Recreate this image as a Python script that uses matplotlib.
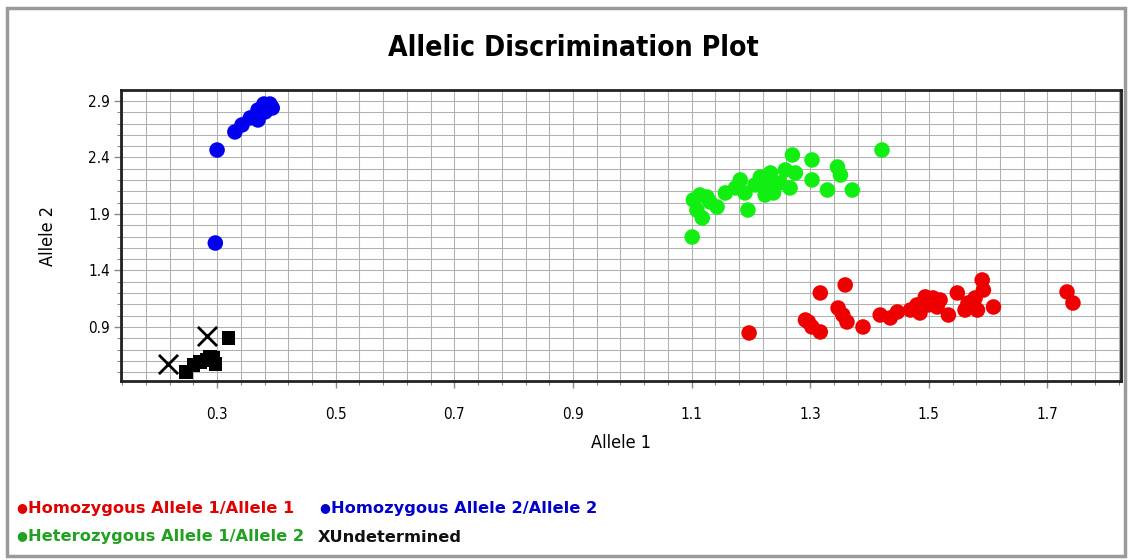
import matplotlib
matplotlib.use("Agg")
import matplotlib.pyplot as plt
from matplotlib.ticker import FixedLocator, MultipleLocator
from matplotlib.patches import Rectangle
from matplotlib import font_manager
import numpy as np

# ---------------- data ----------------
hom1_x = [1.197, 1.292, 1.303, 1.317, 1.317, 1.347, 1.359, 1.362, 1.389, 1.418, 1.435,
          1.447, 1.480, 1.485, 1.494, 1.507, 1.514, 1.533, 1.548, 1.566, 1.582, 1.590,
          1.592, 1.609, 1.733, 1.743, 1.297, 1.355, 1.469, 1.499, 1.519, 1.578, 1.561]
hom1_y = [0.847, 0.962, 0.900, 0.856, 1.201, 1.068, 1.272, 0.944, 0.900, 1.006, 0.980,
          1.033, 1.095, 1.024, 1.166, 1.157, 1.077, 1.006, 1.201, 1.112, 1.050, 1.316,
          1.227, 1.077, 1.210, 1.112, 0.944, 1.006, 1.050, 1.095, 1.139, 1.157, 1.050]

hom2_x = [0.300, 0.297, 0.330, 0.342, 0.356, 0.369, 0.369, 0.379, 0.389, 0.393, 0.381]
hom2_y = [2.466, 1.643, 2.626, 2.688, 2.750, 2.732, 2.820, 2.873, 2.873, 2.838, 2.803]

het_x = [1.101, 1.103, 1.109, 1.118, 1.126, 1.131, 1.143, 1.157, 1.182, 1.190, 1.195,
         1.216, 1.227, 1.233, 1.238, 1.249, 1.266, 1.270, 1.275, 1.303, 1.303, 1.329,
         1.346, 1.351, 1.371, 1.421, 1.207, 1.224, 1.258, 1.114, 1.174]
het_y = [1.696, 2.024, 1.935, 1.865, 2.050, 2.006, 1.962, 2.086, 2.201, 2.086, 1.935,
         2.227, 2.174, 2.263, 2.086, 2.174, 2.130, 2.422, 2.263, 2.378, 2.201, 2.112,
         2.316, 2.245, 2.112, 2.466, 2.157, 2.068, 2.289, 2.068, 2.130]

ntc_x = [0.248, 0.260, 0.271, 0.283, 0.293, 0.297, 0.288, 0.319]
ntc_y = [0.502, 0.564, 0.590, 0.608, 0.626, 0.573, 0.640, 0.803]

undet_x = [0.217, 0.283]
undet_y = [0.573, 0.820]

x_ticks = [0.3, 0.5, 0.7, 0.9, 1.1, 1.3, 1.5, 1.7]
y_ticks = [0.9, 1.4, 1.9, 2.4, 2.9]

title = "Allelic Discrimination Plot"
legend_labels = ["Homozygous Allele 1/Allele 1", "Homozygous Allele 2/Allele 2",
                 "Heterozygous Allele 1/Allele 2", "Undetermined"]

# ---------------- fonts ----------------
names = {f.name for f in font_manager.fontManager.ttflist}
if "Liberation Sans Narrow" in names:
    narrow = dict(family=["Liberation Sans Narrow", "DejaVu Sans"])
elif "DejaVu Sans Condensed" in names:
    narrow = dict(family=["DejaVu Sans Condensed", "DejaVu Sans"])
else:
    narrow = dict(family=["DejaVu Sans"], stretch="condensed")

# ---------------- figure ----------------
W, H = 1128, 560
fig = plt.figure(figsize=(W / 100, H / 100), dpi=100)
fig.patch.set_facecolor("white")

fig.patches.append(Rectangle((7 / W, 1 - 556 / H), 1118 / W, 548 / H, transform=fig.transFigure,
                             fill=False, edgecolor="#9a9a9a", linewidth=2.5, zorder=0))

ax = fig.add_axes([121 / W, 1 - 381 / H, 1000 / W, 291 / H])
ax.set_xlim(0.138, 1.824)
ax.set_ylim(0.422, 2.997)

ax.xaxis.set_major_locator(FixedLocator(x_ticks))
ax.yaxis.set_major_locator(FixedLocator(y_ticks))
ax.xaxis.set_minor_locator(MultipleLocator(0.04, offset=0.02))
ax.yaxis.set_minor_locator(MultipleLocator(0.1))
ax.set_xticklabels([f"{v:.1f}" for v in x_ticks], fontsize=11, **narrow)
ax.set_yticklabels([f"{v:.1f}" for v in y_ticks], fontsize=11, **narrow)
ax.grid(True, which="both", color="#b0b0b0", linewidth=0.75)
ax.set_axisbelow(True)
ax.tick_params(which="both", direction="out", color="#888888")
ax.tick_params(which="major", length=5, width=1, pad=14)
ax.tick_params(which="minor", length=3, width=0.8)
ax.tick_params(axis="y", which="major", pad=3)
for s in ax.spines.values():
    s.set_linewidth(2)
    s.set_color("#222222")

ax.scatter(hom1_x, hom1_y, s=125, c="#ee0000", edgecolors="none", zorder=3)
ax.scatter(hom2_x, hom2_y, s=125, c="#0000ee", edgecolors="none", zorder=3)
ax.scatter(het_x, het_y, s=125, c="#11ee11", edgecolors="none", zorder=3)
ax.scatter(ntc_x, ntc_y, s=95, c="black", marker="s", edgecolors="none", zorder=3)
ax.scatter(undet_x, undet_y, s=190, c="black", marker="x", linewidths=2, zorder=4)

ax.set_xlabel("Allele 1", fontsize=13, labelpad=8, **narrow)
ax.set_ylabel("Allele 2", fontsize=13, labelpad=22, **narrow)

fig.text(573 / W, 1 - 48 / H, title, ha="center", va="center", fontsize=20.3,
         fontweight="bold", **narrow)

# legend as colored text with small bullets
leg_font = dict(fontsize=11.7, fontweight="bold", family=["DejaVu Sans"], va="center")
items = [(28, 509, legend_labels[0], "#e00000", "o"),
         (331, 509, legend_labels[1], "#0000cc", "o"),
         (28, 537, legend_labels[2], "#22a022", "o"),
         (318, 537, legend_labels[3], "#111111", "x")]
for px, py, lab, col, mk in items:
    if mk == "o":
        fig.text((px - 1) / W, 1 - (py - 1) / H, "\u25cf", color=col, fontsize=9,
                 family=["DejaVu Sans"], ha="right", va="center")
        fig.text(px / W, 1 - py / H, lab, color=col, **leg_font)
    else:
        fig.text(px / W, 1 - py / H, "X" + lab, color=col, **leg_font)

fig.savefig("out.png", dpi=100)
